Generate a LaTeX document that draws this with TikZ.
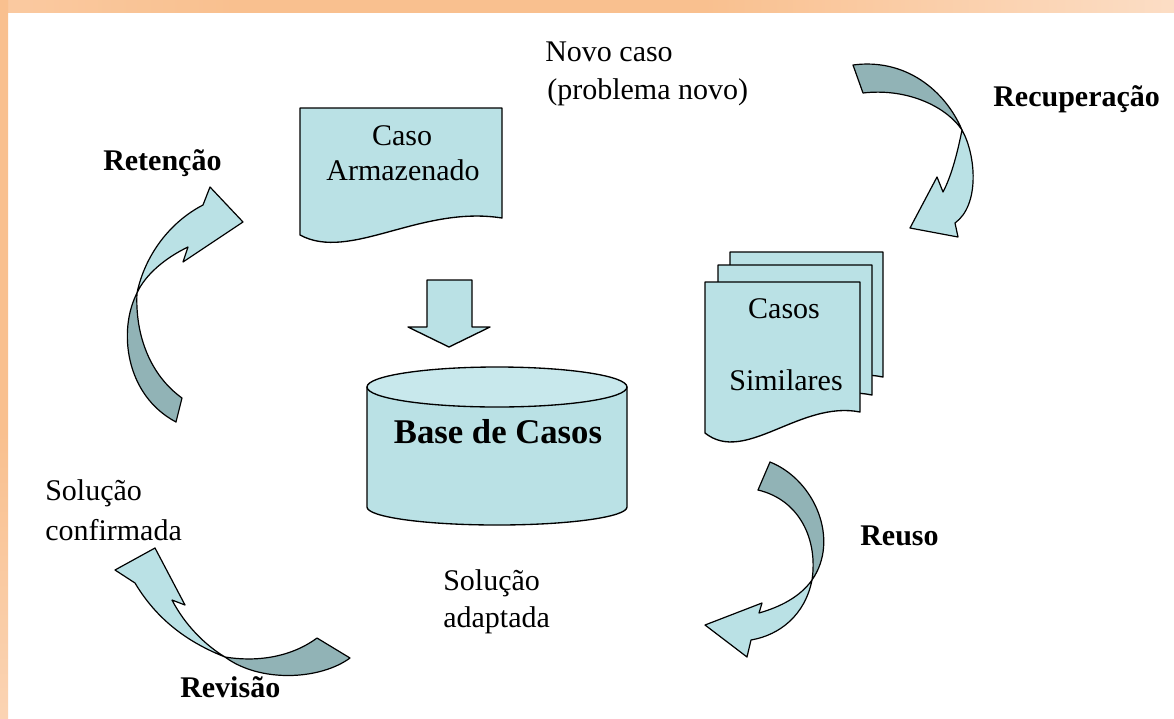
\documentclass[tikz,border=0pt]{standalone}
\usepackage{fontspec}
\setmainfont{Liberation Serif}
\definecolor{orA}{RGB}{252,226,206}
\definecolor{orB}{RGB}{253,236,224}
\definecolor{orC}{RGB}{249,192,143}
\definecolor{orD}{RGB}{255,250,246}
\definecolor{lightfill}{RGB}{186,225,229}
\definecolor{topfill}{RGB}{200,232,236}
\definecolor{darkfill}{RGB}{145,179,182}
\pgfdeclarehorizontalshading{topband}{100bp}{color(0bp)=(orA);color(35bp)=(orC);color(55bp)=(orC);color(85bp)=(orB);color(100bp)=(orD)}
\pgfdeclareverticalshading{leftband}{100bp}{color(0bp)=(orB);color(45bp)=(orC);color(75bp)=(orC);color(100bp)=(orA)}
\tikzset{
  shp/.style={draw=black, line width=1pt, fill=lightfill, line join=round},
  darkband/.style={draw=black, line width=0.9pt, fill=darkfill, line join=round},
  lightband/.style={draw=black, line width=0.9pt, fill=lightfill, line join=round},
  lbl/.style={font=\fontsize{22.5}{27}\selectfont, inner sep=0pt, anchor=base west},
  blbl/.style={font=\fontsize{22.5}{27}\selectfont\bfseries, inner sep=0pt, anchor=base west},
}
\begin{document}
\begin{tikzpicture}[x=0.75pt,y=-0.75pt]
\useasboundingbox (0,0) rectangle (1174,718);
% background frame
\fill[white] (0,0) rectangle (1174,718);
\shade[shading=topband] (0,0) rectangle (1174,12);
\shade[shading=leftband] (0,0) rectangle (8,718);

% Caso Armazenado document
\path[shp] (300,108) -- (502,108) -- (502,218)
  .. controls (420,205) and (350,262) .. (300,235) -- cycle;
\node[lbl, anchor=base] (caso) at (402,145) {Caso};
\node[lbl, anchor=base] (armaz) at (403,180) {Armazenado};

% down block arrow
\path[shp] (427,280) -- (472,280) -- (472,327) -- (490,327) -- (449,347)
  -- (408,327) -- (427,327) -- cycle;

% cylinder
\path[shp] (367,387) -- (367,507)
  .. controls (367,517) and (425,525) .. (497,525)
  .. controls (569,525) and (627,517) .. (627,507) -- (627,387) -- cycle;
\draw[shp, fill=topfill] (497,387) ellipse [x radius=130, y radius=20];
\node[blbl, anchor=base, font=\fontsize{26}{30}\selectfont\bfseries] (base) at (498,443) {Base de Casos};

% Casos Similares stacked documents
\path[shp] (730,252) -- (883,252) -- (883,377)
  .. controls (823,365) and (770,410) .. (730,398) -- cycle;
\path[shp] (718,265) -- (872,265) -- (872,395)
  .. controls (812,383) and (758,428) .. (718,416) -- cycle;
\path[shp] (705,282) -- (860,282) -- (860,412)
  .. controls (800,400) and (745,465) .. (705,433) -- cycle;
\node[lbl, anchor=base] (casos) at (784,318) {Casos};
\node[lbl, anchor=base] (simil) at (786,390) {Similares};

% texts
\node[lbl] (novo1) at (545,61) {Novo caso};
\node[lbl] (novo2) at (547,99) {(problema novo)};
\node[blbl] (recup) at (993,106) {Recuperação};
\node[blbl] (reten) at (103,170) {Retenção};
\node[lbl] (solc1) at (45,500) {Solução};
\node[lbl] (solc2) at (45,540) {confirmada};
\node[blbl] (reuso) at (860,545) {Reuso};
\node[lbl] (sola1) at (443,590) {Solução};
\node[lbl] (sola2) at (443,627) {adaptada};
\node[blbl] (revis) at (180,697) {Revisão};

% Recuperacao curved arrow
\path[darkband] (853,65) .. controls (905,58) and (945,90) .. (962,130)
  .. controls (945,105) and (905,88) .. (863,93) -- cycle;
\path[lightband] (962,130) .. controls (976,155) and (980,205) .. (955,223)
  -- (958,237) -- (910,228) -- (937,177) -- (943,192)
  .. controls (952,175) and (958,150) .. (962,130) -- cycle;

% Retencao curved arrow
\path[darkband] (137,293) .. controls (118,330) and (125,395) .. (176,422)
  -- (182,398) .. controls (150,375) and (135,335) .. (137,293) -- cycle;
\path[lightband] (137,293) .. controls (145,255) and (170,222) .. (203,205)
  -- (210,187) -- (243,222) -- (183,262) -- (188,247)
  .. controls (165,258) and (145,275) .. (137,293) -- cycle;

% Reuso curved arrow
\path[darkband] (770,462) .. controls (815,480) and (840,540) .. (812,580)
  .. controls (818,540) and (800,500) .. (758,490) -- cycle;
\path[lightband] (812,580) .. controls (800,597) and (780,607) .. (759,613)
  -- (762,603) -- (705,625) -- (747,657) -- (751,640)
  .. controls (780,635) and (805,615) .. (812,580) -- cycle;

% Revisao curved arrow
\path[darkband] (225,657) .. controls (260,683) and (320,680) .. (350,658)
  -- (317,638) .. controls (290,658) and (255,662) .. (225,657) -- cycle;
\path[lightband] (225,657) .. controls (195,645) and (160,625) .. (135,583)
  -- (115,570) -- (155,548) -- (185,605) -- (172,600)
  .. controls (185,625) and (205,645) .. (225,657) -- cycle;
\end{tikzpicture}
\end{document}
